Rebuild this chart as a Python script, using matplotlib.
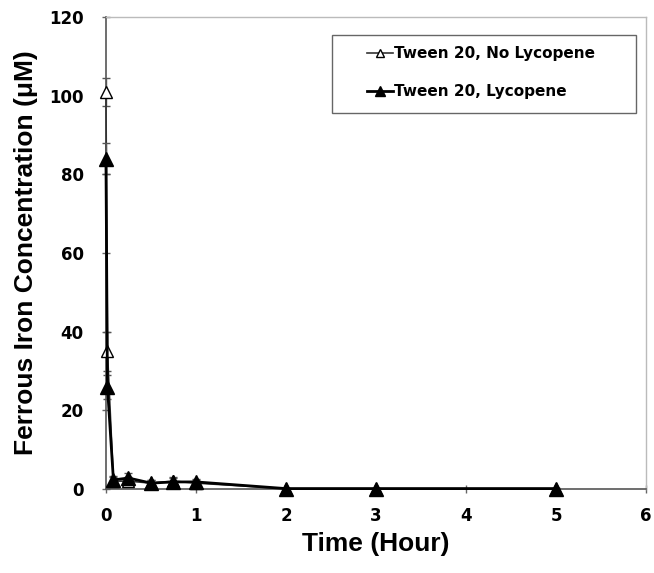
import matplotlib
matplotlib.use("Agg")
import matplotlib.pyplot as plt
from matplotlib.lines import Line2D
from matplotlib.patches import Rectangle

time_h = [0, 0.0167, 0.083, 0.25, 0.5, 0.75, 1, 2, 3, 5]
no_lyc = [101, 35, 2.0, 2.0, 1.5, 2.0, 1.5, 0.1, 0.1, 0.1]
no_lyc_err = [3.5, 5, 1.0, 1.0, 0.8, 1.0, 0.8, 0.2, 0.2, 0.2]
lyc = [84, 26, 2.3, 2.8, 1.5, 1.8, 1.8, 0.1, 0.1, 0.1]
lyc_err = [4, 3, 1.0, 1.2, 0.8, 1.0, 0.8, 0.2, 0.2, 0.2]

x_ticks = [0, 1, 2, 3, 4, 5, 6]
y_ticks = [0, 20, 40, 60, 80, 100, 120]
series_labels = ["Tween 20, No Lycopene", "Tween 20, Lycopene"]

fig = plt.figure(figsize=(6.54, 5.73), dpi=100)
ax = fig.add_axes([0.162, 0.1466, 0.826, 0.8234])

e1 = ax.errorbar(time_h, no_lyc, yerr=no_lyc_err, color="#333333", lw=1.2,
                 marker="^", ms=9, mfc="white", mec="black", mew=1.0,
                 ecolor="#555555", elinewidth=1.0, capsize=3, zorder=3)
e2 = ax.errorbar(time_h, lyc, yerr=lyc_err, color="black", lw=2.0,
                 marker="^", ms=10, mfc="black", mec="black",
                 ecolor="#555555", elinewidth=1.0, capsize=3, zorder=4)
for e in (e1, e2):
    e[0].set_clip_on(False)
    for c in e[1]:
        c.set_clip_on(False)
    for b in e[2]:
        b.set_clip_on(False)

ax.set_xlim(0, 6)
ax.set_ylim(0, 120)
ax.set_xticks(x_ticks)
ax.set_yticks(y_ticks)
ax.tick_params(direction="inout", length=6, width=1, colors="#666666",
               labelcolor="black", labelsize=12)
ax.tick_params(axis="x", pad=10)
ax.tick_params(axis="y", pad=13)
for lab in ax.get_xticklabels() + ax.get_yticklabels():
    lab.set_fontweight("bold")
    lab.set_family("DejaVu Sans")

for s in ["left", "bottom"]:
    ax.spines[s].set_color("#555555")
    ax.spines[s].set_linewidth(1.2)
for s in ["top", "right"]:
    ax.spines[s].set_color("#bbbbbb")
    ax.spines[s].set_linewidth(1.0)

ax.set_xlabel("Time (Hour)", fontsize=19, fontweight="bold", family="Liberation Sans", labelpad=5)
ax.set_ylabel("Ferrous Iron Concentration (μM)", fontsize=19, fontweight="bold",
              family="Liberation Sans", labelpad=8)

# legend frame
ax.add_patch(Rectangle((0.4185, 0.7966), 0.563, 0.1653, transform=ax.transAxes,
                       facecolor="white", edgecolor="#666666", lw=1.0, zorder=5))

h1 = Line2D([], [], color="#333333", lw=1.2, marker="^", ms=6, mfc="white", mec="black")
h2 = Line2D([], [], color="black", lw=2.0, marker="^", ms=7, mfc="black", mec="black")
leg = ax.legend([h1, h2], series_labels, loc="upper left", bbox_to_anchor=(0.483, 0.938),
                frameon=False,
                prop={"family": "DejaVu Sans", "weight": "bold", "size": 11},
                handlelength=1.7, handletextpad=0.1, labelspacing=1.5,
                borderpad=0, borderaxespad=0)
leg.set_zorder(6)

fig.savefig("out.png", dpi=100)
